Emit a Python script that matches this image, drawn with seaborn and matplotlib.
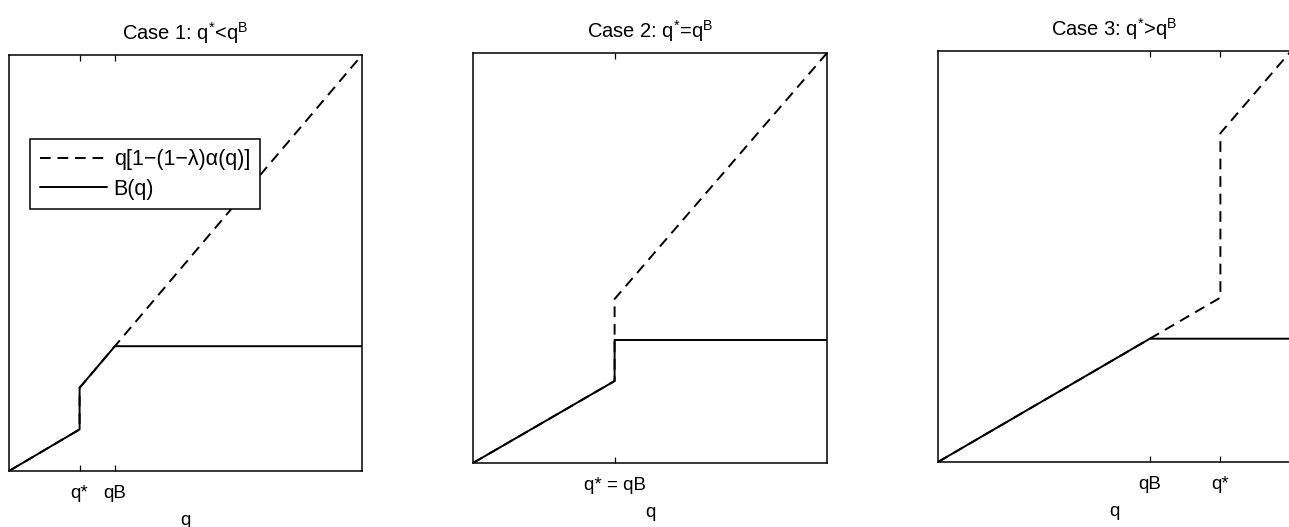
import matplotlib
matplotlib.use("Agg")
import matplotlib.pyplot as plt
import seaborn as sns
import pandas as pd

# Kinked payoff curves for the three cases (q on [0, 1])
case1_dash_q = [0.0, 0.2, 0.2, 1.0]
case1_dash_v = [0.0, 0.1, 0.2, 1.0]
case1_b_q = [0.0, 0.2, 0.2, 0.3, 1.0]
case1_b_v = [0.0, 0.1, 0.2, 0.3, 0.3]
case1_ticks = [0.2, 0.3]
case1_labels = ["q*", "qB"]

case2_dash_q = [0.0, 0.4, 0.4, 1.0]
case2_dash_v = [0.0, 0.2, 0.4, 1.0]
case2_b_q = [0.0, 0.4, 0.4, 1.0]
case2_b_v = [0.0, 0.2, 0.3, 0.3]
case2_ticks = [0.4]
case2_labels = ["q* = qB"]

case3_dash_q = [0.0, 0.8, 0.8, 1.0]
case3_dash_v = [0.0, 0.4, 0.8, 1.0]
case3_b_q = [0.0, 0.6, 1.0]
case3_b_v = [0.0, 0.3, 0.3]
case3_ticks = [0.6, 0.8]
case3_labels = ["qB", "q*"]

titles = [r"Case 1: $q^{*}$<$q^{B}$", r"Case 2: $q^{*}$=$q^{B}$", r"Case 3: $q^{*}$>$q^{B}$"]
dash_label = "q[1\u2212(1\u2212\u03bb)\u03b1(q)]"
b_label = "B(q)"

sns.set_theme(style="white")
plt.rcParams["font.family"] = ["Liberation Sans", "DejaVu Sans"]
plt.rcParams["mathtext.fontset"] = "custom"
plt.rcParams["mathtext.rm"] = "Liberation Sans"
plt.rcParams["mathtext.it"] = "Liberation Sans"
plt.rcParams["mathtext.default"] = "regular"
plt.rcParams["text.color"] = "black"
plt.rcParams["axes.labelcolor"] = "black"
plt.rcParams["xtick.color"] = "black"
plt.rcParams["xtick.labelcolor"] = "black"

fig = plt.figure(figsize=(12.89, 5.27), dpi=100)
rects = [
    [9 / 1289, 56 / 527, 353 / 1289, 416 / 527],
    [473 / 1289, 64 / 527, 354 / 1289, 410 / 527],
    [938 / 1289, 65 / 527, 353 / 1289, 411 / 527],
]
cases = [
    (case1_dash_q, case1_dash_v, case1_b_q, case1_b_v, case1_ticks, case1_labels),
    (case2_dash_q, case2_dash_v, case2_b_q, case2_b_v, case2_ticks, case2_labels),
    (case3_dash_q, case3_dash_v, case3_b_q, case3_b_v, case3_ticks, case3_labels),
]

for i, (rect, (dq, dv, bq, bv, ticks, labels)) in enumerate(zip(rects, cases)):
    ax = fig.add_axes(rect)
    dash_df = pd.DataFrame({"q": dq, "v": dv})
    b_df = pd.DataFrame({"q": bq, "v": bv})
    sns.lineplot(data=dash_df, x="q", y="v", ax=ax, color="black", lw=1.4,
                 linestyle=(0, (5.5, 3.5)), sort=False, estimator=None, label=dash_label)
    sns.lineplot(data=b_df, x="q", y="v", ax=ax, color="black", lw=1.4,
                 sort=False, estimator=None, label=b_label)
    ax.set_xlim(0, 1)
    ax.set_ylim(0, 1)
    ax.set_xticks(ticks)
    ax.set_xticklabels(labels, fontsize=13.5)
    ax.set_yticks([])
    ax.tick_params(axis="x", direction="in", length=4, width=0.9, top=True,
                   bottom=True, color="black", pad=10)
    ax.set_xlabel("q", fontsize=13.5, labelpad=7)
    ax.set_ylabel("")
    ax.set_title(titles[i], fontsize=14.5, pad=11)
    for sp in ax.spines.values():
        sp.set_color("black")
        sp.set_linewidth(1.1)
    if i == 0:
        leg = ax.legend(loc="upper left", bbox_to_anchor=(0.06, 0.797), fontsize=15.5,
                        handlelength=3.1, frameon=True, fancybox=False, framealpha=1.0,
                        borderpad=0.45, labelspacing=0.4, handletextpad=0.33,
                        borderaxespad=0)
        leg.get_frame().set_edgecolor("black")
        leg.get_frame().set_linewidth(1.1)
    else:
        ax.get_legend().remove()

fig.savefig("out.png", dpi=100)
